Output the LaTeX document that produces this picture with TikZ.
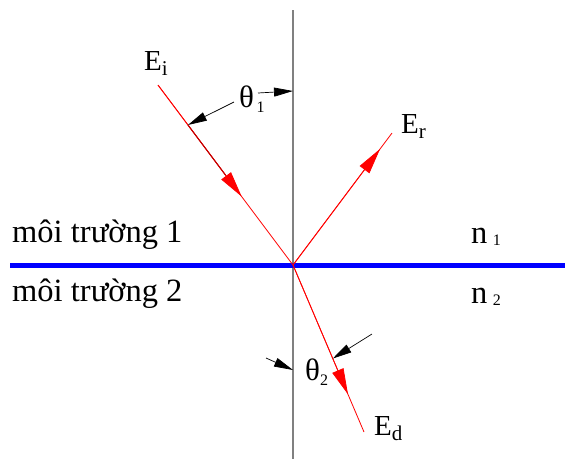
\documentclass[tikz,border=0pt]{standalone}
\usepackage{fontspec}
\setmainfont{Liberation Serif}
\usetikzlibrary{arrows.meta,calc}

\begin{document}
\begin{tikzpicture}[
  x=1pt,y=-1pt,
  ray/.style={red,line width=0.8pt},
  rayarrow/.style={red,line width=0.8pt,-{Triangle[length=26pt,width=12pt]}},
  angarrow/.style={black,line width=0.7pt,-{Triangle[length=19pt,width=9pt]}},
  lbl/.style={inner sep=0pt,anchor=base west,font=\fontsize{32.5}{34}\selectfont},
  elbl/.style={inner sep=0pt,anchor=base west,font=\fontsize{29}{31}\selectfont}
]
\useasboundingbox (0,0) rectangle (565,459);
% normal and interface
\coordinate (O) at (293,265);
\coordinate (ntop) at (293,10);
\coordinate (nbot) at (293,459);
\coordinate (sl) at (10,265);
\coordinate (sr) at (565,265);
\draw[gray,line width=1.3pt] (ntop) -- (nbot);
\draw[blue,line width=5pt] (sl) -- (sr);
% rays
\coordinate (inc) at (158,85);
\coordinate (refl) at (392,133);
\coordinate (refr) at (364,432);
\coordinate (hit1) at ($(inc)!0.222!(O)$);
\coordinate (hit2) at ($(O)!0.56!(refr)$);
\draw[ray] (inc) -- (O);
\draw[ray] (O) -- (refl);
\draw[ray] (O) -- (refr);
\draw[rayarrow] (inc) -- ($(inc)!0.62!(O)$);
\draw[red!75!black,line width=1pt] (hit1) -- ($(inc)!0.5!(O)$);
\draw[rayarrow] (O) -- ($(O)!0.88!(refl)$);
\draw[rayarrow] (O) -- ($(O)!0.775!(refr)$);
% angles
\coordinate (a1) at (258,93);
\coordinate (a1n) at (293,91);
\coordinate (a2) at (234,102);
\coordinate (b1) at (266,358);
\coordinate (b1n) at (293,370);
\coordinate (b2) at (372,334);
\draw[angarrow] (a1) -- (a1n);
\draw[angarrow] (a2) -- (hit1);
\draw[angarrow] (b1) -- (b1n);
\draw[angarrow] (b2) -- (hit2);
\node[lbl,font=\fontsize{31}{33}\selectfont] (th1) at (239,107) {θ\raisebox{-5pt}{\fontsize{16}{16}\selectfont\,1}};
\node[lbl,font=\fontsize{31}{33}\selectfont] (th2) at (305,380) {θ\raisebox{-5pt}{\fontsize{16}{16}\selectfont 2}};
% labels
\node[elbl] (Ei) at (144,70) {E\raisebox{-5pt}{\fontsize{21}{21}\selectfont i}};
\node[elbl] (Er) at (401,133) {E\raisebox{-5pt}{\fontsize{21}{21}\selectfont r}};
\node[elbl] (Ed) at (374,435) {E\raisebox{-5pt}{\fontsize{21}{21}\selectfont d}};
\node[lbl] (m1) at (12,242) {môi trường 1};
\node[lbl] (m2) at (12,301) {môi trường 2};
\node[lbl] (n1) at (471,243) {n\,\raisebox{-2pt}{\fontsize{16}{16}\selectfont 1}};
\node[lbl] (n2) at (471,303) {n\,\raisebox{-2pt}{\fontsize{16}{16}\selectfont 2}};
\end{tikzpicture}
\end{document}
